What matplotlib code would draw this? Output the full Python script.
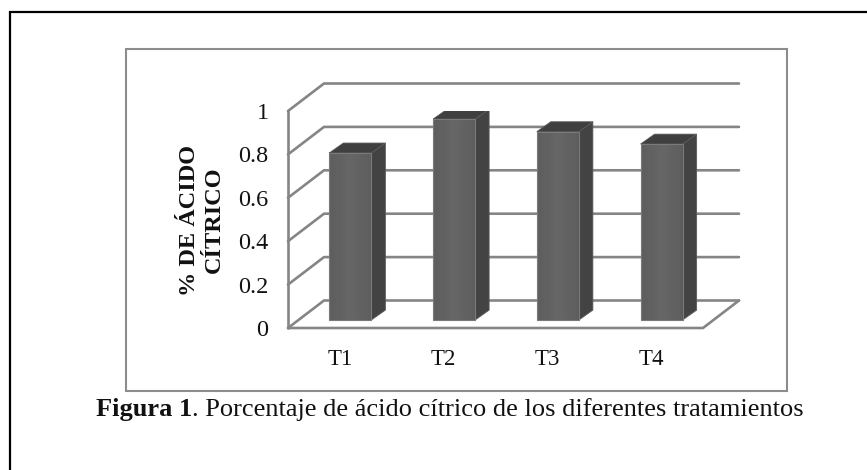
import matplotlib
matplotlib.use("Agg")
import matplotlib.pyplot as plt
import numpy as np
from matplotlib.patches import Polygon, Rectangle

plt.rcParams['font.family'] = ['Liberation Serif', 'DejaVu Serif']

categorias = ['T1', 'T2', 'T3', 'T4']
valores = [0.77, 0.926, 0.868, 0.811]
ticks_y = [0, 0.2, 0.4, 0.6, 0.8, 1]
etiquetas_y = ['0', '0.2', '0.4', '0.6', '0.8', '1']

W, H = 867, 470
# profundidad de la perspectiva en unidades de datos
PROF_X = 36 / 103.75
PROF_Y = 27.5 / 217
ANCHO = 0.405
GRIS = '#858585'

fig = plt.figure(figsize=(W / 100, H / 100), dpi=100)

# capa de fondo en pixeles: marcos y leyenda
fondo = fig.add_axes([0, 0, 1, 1])
fondo.set_xlim(0, W)
fondo.set_ylim(H, 0)
fondo.axis('off')
fondo.plot([10, 10, W], [H, 12, 12], color='black', lw=1.6, solid_joinstyle='miter')
fondo.add_patch(Rectangle((125.5, 49), 661.5, 342, fill=False, ec='#8c8c8c', lw=1.5))

t1 = fondo.text(96, 416, 'Figura 1', fontsize=19, fontweight='bold', color='#111111',
                ha='left', va='baseline')
fondo.annotate('. Porcentaje de ácido cítrico de los diferentes tratamientos',
               xy=(1, 0), xycoords=t1, va='bottom', ha='left', fontsize=19, color='#111111',
               annotation_clip=False)
fondo.text(202, 220, '% DE ÁCIDO\nCÍTRICO', fontsize=17.5, fontweight='bold', color='#111111',
           rotation=90, ha='center', va='center', multialignment='center', linespacing=1.2)

# ejes del grafico
ax = fig.add_axes([288 / W, 1 - 328 / H, (703 - 288) / W, (328 - 111) / H])
ax.patch.set_alpha(0)
ax.set_xlim(0, len(categorias))
ax.set_ylim(0, 1)
for s in ax.spines.values():
    s.set_visible(False)

x_cat = np.arange(len(categorias)) + 0.5
ax.set_xticks(x_cat)
ax.set_xticklabels(categorias, fontsize=16.5, color='#111111')
ax.set_yticks(ticks_y)
ax.set_yticklabels(etiquetas_y, fontsize=17.5, color='#111111')
ax.tick_params(axis='x', length=0, pad=15)
ax.tick_params(axis='y', length=0, pad=14)

# paredes y piso en perspectiva
n = len(categorias)
estilo = dict(color=GRIS, lw=1.9, clip_on=False, zorder=1, solid_capstyle='round')
for v in ticks_y:
    ax.plot([0, PROF_X, n + PROF_X], [v, v + PROF_Y, v + PROF_Y], **estilo)
ax.plot([0, 0], [0, 1], **estilo)
ax.plot([0, n, n + PROF_X], [0, 0, PROF_Y], **estilo)

# barras 3D
frente_dx = 0.29 * PROF_X
frente_dy = 0.29 * PROF_Y
fondo_dx = 0.39 * PROF_X
fondo_dy = 0.36 * PROF_Y
gradiente = np.array([[0.37, 0.38, 0.39, 0.40, 0.39, 0.38, 0.37]])
for xc, v in zip(x_cat, valores):
    x0 = xc - ANCHO / 2 + frente_dx
    x1 = x0 + ANCHO
    y0 = frente_dy
    y1 = v + frente_dy
    ax.imshow(gradiente, cmap='gray', vmin=0, vmax=1, extent=(x0, x1, y0, y1),
              aspect='auto', zorder=3, interpolation='bilinear')
    ax.add_patch(Polygon([(x0, y0), (x1, y0), (x1, y1), (x0, y1)], closed=True, fill=False,
                         ec='#7a7a7a', lw=0.8, zorder=4))
    ax.add_patch(Polygon([(x1, y0), (x1 + fondo_dx, y0 + fondo_dy), (x1 + fondo_dx, y1 + fondo_dy), (x1, y1)],
                         closed=True, fc='#434343', ec='#5a5a5a', lw=0.6, zorder=3))
    ax.add_patch(Polygon([(x0, y1), (x1, y1), (x1 + fondo_dx, y1 + fondo_dy), (x0 + fondo_dx, y1 + fondo_dy)],
                         closed=True, fc='#3f3f3f', ec='#5a5a5a', lw=0.6, zorder=3))
ax.set_xlim(0, n)
ax.set_ylim(0, 1)

fig.savefig('out.png', dpi=100)
